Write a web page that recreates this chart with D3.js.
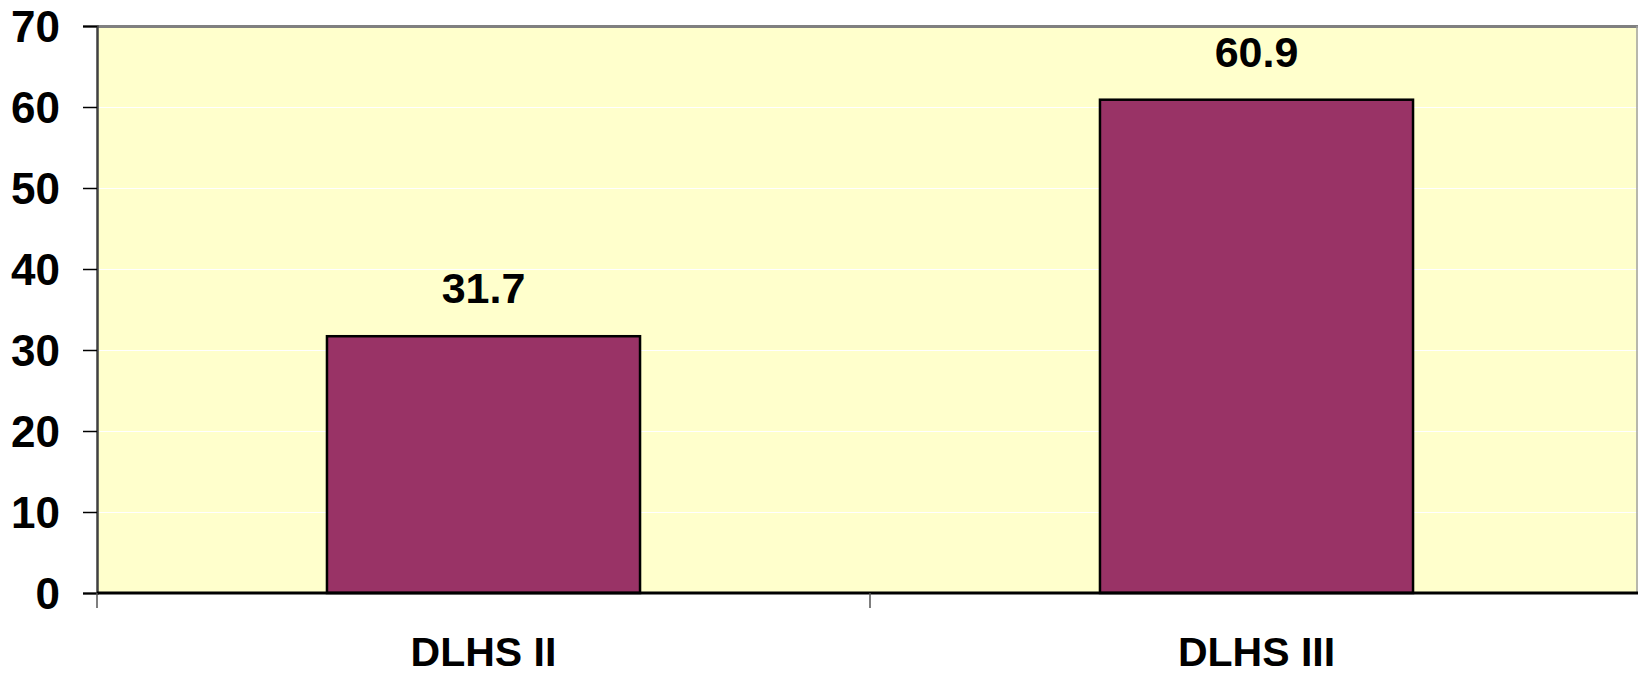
<!DOCTYPE html>
<html>
<head>
<meta charset="utf-8">
<script src="https://cdn.jsdelivr.net/npm/d3@7"></script>
<style>
html,body{margin:0;padding:0;background:#fff;}
svg{display:block;}
text{font-family:"Liberation Sans",Arial,sans-serif;font-weight:bold;fill:#000;}
</style>
</head>
<body>
<svg id="chart" width="1638" height="682"></svg>
<script>
const categories = ["DLHS II", "DLHS III"];
const values = [31.7, 60.9];
const yTicks = [0, 10, 20, 30, 40, 50, 60, 70];

const W = 1638, H = 682;
const margin = {left: 97, top: 26, right: -5, bottom: 89};
const svg = d3.select("#chart");
const x0 = margin.left, x1 = W - margin.right;
const y0 = H - margin.bottom, y1 = margin.top;

const x = d3.scaleBand().domain(categories).range([x0, x1]).paddingInner(0.595).paddingOuter(0.2975);
const y = d3.scaleLinear().domain([0, 70]).range([y0, y1]);

// plot background
svg.append("rect").attr("x", x0).attr("y", y1).attr("width", x1 - x0).attr("height", y0 - y1).attr("fill", "#FFFFCC");

// gridlines
svg.append("g").selectAll("line").data(yTicks.filter(d => d > 0 && d < 70)).join("line")
  .attr("x1", x0).attr("x2", x1).attr("y1", d => Math.round(y(d)) + 0.5).attr("y2", d => Math.round(y(d)) + 0.5)
  .attr("stroke", "#ffffff").attr("stroke-width", 1);

// top border
svg.append("line").attr("x1", x0).attr("x2", x1).attr("y1", y1 + 0.5).attr("y2", y1 + 0.5)
  .attr("stroke", "#808080").attr("stroke-width", 3);
// right border
svg.append("line").attr("x1", 1637).attr("x2", 1637).attr("y1", y1).attr("y2", y0)
  .attr("stroke", "#a0a0a0").attr("stroke-width", 1.5);

// bars
svg.append("g").selectAll("rect").data(values).join("rect")
  .attr("x", (d, i) => x(categories[i]))
  .attr("y", d => y(d))
  .attr("width", x.bandwidth())
  .attr("height", d => y0 - y(d))
  .attr("fill", "#993366")
  .attr("stroke", "#000")
  .attr("stroke-width", 2.5);

// value labels
svg.append("g").selectAll("text").data(values).join("text")
  .attr("x", (d, i) => x(categories[i]) + x.bandwidth() / 2)
  .attr("y", d => y(d) - 33)
  .attr("text-anchor", "middle")
  .style("font-size", "43px")
  .text(d => d.toFixed(1));

// y axis
const yAxis = d3.axisLeft(y).tickValues(yTicks).tickSize(14).tickPadding(23).tickFormat(d3.format("d"));
const gy = svg.append("g").attr("transform", `translate(${x0},0)`).call(yAxis);
gy.select(".domain").attr("stroke", "#404040").attr("stroke-width", 2.5);
gy.selectAll(".tick line").attr("stroke", "#000").attr("stroke-width", 1.5);
gy.selectAll(".tick text").style("font-size", "44px").attr("font-family", null).attr("fill", "#000").attr("dy", "0.36em");

// x axis
const xAxis = d3.axisBottom(x).tickSize(0).tickPadding(44);
const gx = svg.append("g").attr("transform", `translate(0,${y0})`).call(xAxis);
gx.select(".domain").remove();
gx.append("line").attr("x1", x0).attr("x2", x1).attr("y1", 0).attr("y2", 0).attr("stroke", "#000").attr("stroke-width", 3);
gx.selectAll(".tick text").style("font-size", "41px").attr("font-family", null).attr("fill", "#000").attr("dy", "0.71em");
// category boundary ticks
const bounds = [x0, (x0 + x1) / 2, x1];
gx.selectAll(".bt").data(bounds).join("line").attr("class", "bt")
  .attr("x1", d => d).attr("x2", d => d).attr("y1", 0).attr("y2", 15)
  .attr("stroke", "#555").attr("stroke-width", 1.5);
</script>
</body>
</html>
